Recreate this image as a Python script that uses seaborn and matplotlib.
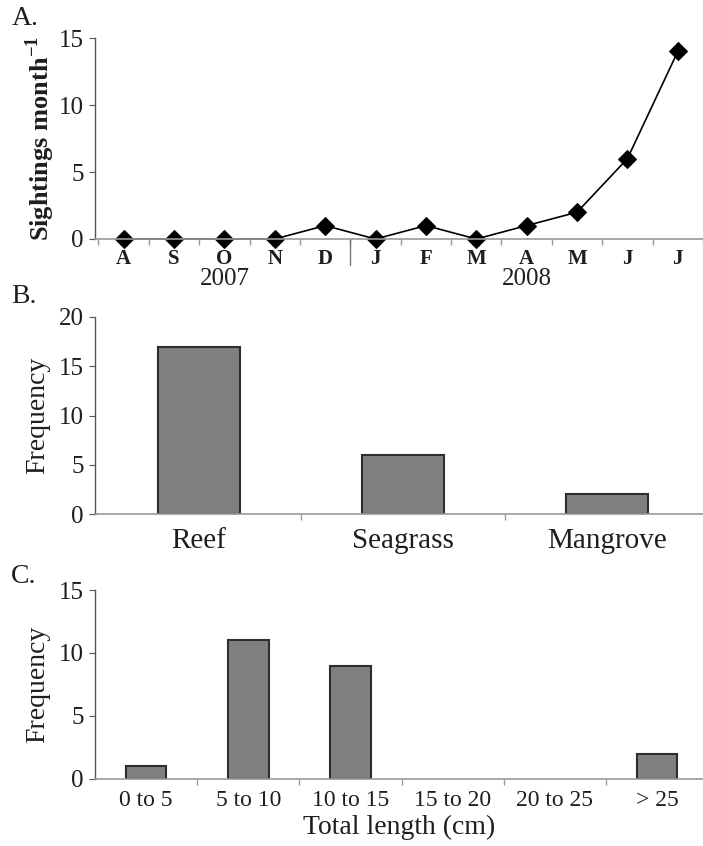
import numpy as np
import pandas as pd
import matplotlib
matplotlib.use("Agg")
import matplotlib.pyplot as plt
import matplotlib.transforms as mtrans
import seaborn as sns

# datos
months = ["A", "S", "O", "N", "D", "J", "F", "M", "A", "M", "J", "J"]
sightings = [0, 0, 0, 0, 1, 0, 1, 0, 1, 2, 6, 14]
years = ["2007", "2008"]
year_pos = [2, 8]

habitats = ["Reef", "Seagrass", "Mangrove"]
habitat_freq = [17, 6, 2]

length_bins = ["0 to 5", "5 to 10", "10 to 15", "15 to 20", "20 to 25", "> 25"]
length_freq = [1, 11, 9, 0, 0, 2]

sns.set_theme(style="ticks")
plt.rcParams["font.family"] = ["Liberation Serif", "DejaVu Serif"]
plt.rcParams["mathtext.fontset"] = "custom"
plt.rcParams["mathtext.rm"] = "Liberation Serif"
plt.rcParams["mathtext.bf"] = "Liberation Serif:bold"

TXT = "#1e1e1e"
BAR = "#808080"
EDGE = "#2e2e2e"

fig = plt.figure(figsize=(7.03, 8.46), dpi=100)
fig.patch.set_facecolor("white")

axA = fig.add_axes([0.135, 0.7175, 0.865, 0.2375])
axB = fig.add_axes([0.135, 0.3924, 0.865, 0.2329])
axC = fig.add_axes([0.135, 0.0792, 0.865, 0.2234])


def style_axis(ax):
    sns.despine(ax=ax, top=True, right=True)
    ax.spines["left"].set_color("#555555")
    ax.spines["bottom"].set_color("#999999")
    ax.spines["left"].set_linewidth(1.0)
    ax.spines["bottom"].set_linewidth(1.2)
    ax.tick_params(axis="y", direction="out", length=4, width=0.8, color="#555555",
                   labelsize=18, labelcolor=TXT, pad=4)
    ax.set_facecolor("white")


def hide_empty_bars(ax):
    # las barras de altura 0 no se ven en el original
    for p in ax.patches:
        if p.get_height() == 0:
            p.set_linewidth(0)


# ===============================
# A. avistamientos por mes
# ===============================
dfA = pd.DataFrame({"idx": np.arange(len(months)), "n": sightings})
sns.lineplot(data=dfA, x="idx", y="n", ax=axA, color="black", linewidth=1.2,
             marker="D", markersize=9, markeredgecolor="black", clip_on=False)
style_axis(axA)
axA.set_xlim(-0.57, 11.35)
axA.set_ylim(0, 15)
axA.set_yticks([0, 5, 10, 15])
axA.set_xticks(np.arange(len(months)))
axA.set_xticklabels(months, fontsize=15, fontweight="bold", color=TXT)
axA.set_xticks(np.arange(-0.5, 11.6, 1.0), minor=True)
axA.tick_params(axis="x", which="major", length=0, pad=7)
axA.tick_params(axis="x", which="minor", length=4, color="#999999")
axA.set_xlabel("")
axA.set_ylabel(r"Sightings month$^{\mathbf{-1}}$", fontsize=19, fontweight="bold",
               color=TXT, labelpad=1)
trA = mtrans.blended_transform_factory(axA.transData, axA.transAxes)
axA.plot([4.5, 4.5], [0, -0.13], transform=trA, color="#777777", lw=1.0, clip_on=False)
for yr, xp in zip(years, year_pos):
    axA.text(xp, -0.2, yr, transform=trA, ha="center", va="center",
             fontsize=18, color=TXT)

# ===============================
# B. frecuencia por habitat
# ===============================
dfB = pd.DataFrame({"hab": habitats, "freq": habitat_freq})
sns.barplot(data=dfB, x="hab", y="freq", ax=axB, color=BAR, saturation=1,
            width=0.4, edgecolor=EDGE, linewidth=1.5)
style_axis(axB)
axB.set_xlim(-0.51, 2.47)
axB.set_ylim(0, 20)
axB.set_yticks([0, 5, 10, 15, 20])
axB.set_xticks([0, 1, 2])
axB.set_xticklabels(habitats, fontsize=21, color=TXT)
axB.set_xticks([0.5, 1.5], minor=True)
axB.tick_params(axis="x", which="major", length=0, pad=10)
axB.tick_params(axis="x", which="minor", length=4, color="#999999")
axB.set_xlabel("")
axB.set_ylabel("Frequency", fontsize=20, color=TXT, labelpad=6)

# ===============================
# C. frecuencia por talla
# ===============================
dfC = pd.DataFrame({"bin": length_bins, "freq": length_freq})
sns.barplot(data=dfC, x="bin", y="freq", ax=axC, color=BAR, saturation=1,
            width=0.4, edgecolor=EDGE, linewidth=1.5)
hide_empty_bars(axC)
style_axis(axC)
axC.set_xlim(-0.5, 5.45)
axC.set_ylim(0, 15)
axC.set_yticks([0, 5, 10, 15])
axC.set_xticks(np.arange(len(length_bins)))
axC.set_xticklabels(length_bins, fontsize=17, color=TXT)
axC.set_xticks(np.arange(0.5, 5.0, 1.0), minor=True)
axC.tick_params(axis="x", which="major", length=0, pad=8)
axC.tick_params(axis="x", which="minor", length=4, color="#999999")
axC.set_xlabel("Total length (cm)", fontsize=20, color=TXT, labelpad=3)
axC.set_ylabel("Frequency", fontsize=20, color=TXT, labelpad=6)

# letras de panel
for lab, yy in zip(["A.", "B.", "C."], [0.978, 0.649, 0.319]):
    fig.text(0.016, yy, lab, fontsize=20, color=TXT, ha="left", va="center")

fig.savefig("out.png", dpi=100, facecolor="white")
